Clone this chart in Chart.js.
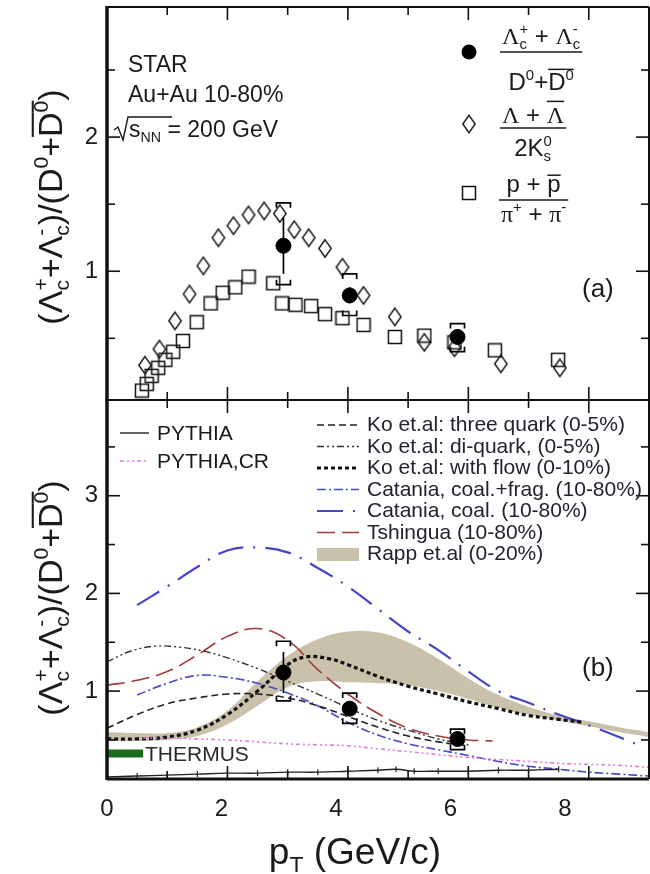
<!DOCTYPE html>
<html>
<head>
<meta charset="utf-8">
<script src="https://cdn.jsdelivr.net/npm/chart.js@4.4.1/dist/chart.umd.min.js"></script>
<style>
  body { margin: 0; background: #fff; }
  #wrap { position: relative; width: 650px; height: 874px; }
  #wrap canvas { position: absolute; left: 0; top: 0; }
</style>
</head>
<body>
<div id="wrap">
  <canvas id="panelA" width="650" height="874"></canvas>
  <canvas id="panelB" width="650" height="874"></canvas>
</div>
<script>
// ---- axis ticks ----
const xTicks = [0, 1, 2, 3, 4, 5, 6, 7, 8, 9];
const xLabels = [0, 2, 4, 6, 8];
const yTicksA = [0.5, 1, 1.5, 2, 2.5];
const yTicksB = [0.5, 1, 1.5, 2, 2.5, 3, 3.5];

// ---- Lambda_c / D0 (STAR, 10-80%) ----
const lcPt = [2.93, 4.03, 5.82];
const lcRatio = [1.19, 0.82, 0.51];
const lcStat = [0.21, 0.06, 0.03];
const lcSysUp = [0.32, 0.16, 0.10];
const lcSysDn = [0.29, 0.15, 0.11];

// ---- light flavour ratios, panel (a) ----
const lkPt = [0.63, 0.87, 1.13, 1.37, 1.60, 1.85, 2.10, 2.35, 2.61, 2.87, 3.11, 3.35, 3.62, 3.91, 4.26, 4.78, 5.27, 5.77, 6.54, 7.52];
const lkRatio = [0.30, 0.42, 0.63, 0.83, 1.04, 1.25, 1.34, 1.42, 1.45, 1.43, 1.31, 1.25, 1.17, 1.03, 0.82, 0.66, 0.47, 0.43, 0.31, 0.28];
const ppiPt = [0.58, 0.66, 0.74, 0.85, 0.97, 1.10, 1.26, 1.49, 1.72, 1.92, 2.13, 2.35, 2.76, 2.91, 3.13, 3.39, 3.62, 3.91, 4.26, 4.78, 5.27, 5.77, 6.44, 7.49];
const ppiRatio = [0.11, 0.16, 0.22, 0.28, 0.34, 0.40, 0.48, 0.62, 0.76, 0.84, 0.88, 0.96, 0.91, 0.76, 0.75, 0.74, 0.68, 0.65, 0.60, 0.51, 0.52, 0.47, 0.41, 0.34];

// ---- model curves, panel (b) ----
const pythiaPt = [0, 0.5, 1, 1.5, 2, 2.5, 3, 3.5, 4, 4.5, 4.8, 5.1, 5.5, 6, 6.5, 7, 7.5];
const pythiaVal = [0.12, 0.13, 0.14, 0.15, 0.16, 0.16, 0.17, 0.17, 0.18, 0.19, 0.20, 0.18, 0.18, 0.18, 0.19, 0.19, 0.20];
const pythiaCrPt = [0.6, 1, 1.5, 2, 2.5, 3, 3.5, 4, 4.5, 5, 5.5, 6, 6.5, 7, 7.5, 8, 8.5, 9];
const pythiaCrVal = [0.52, 0.52, 0.51, 0.50, 0.48, 0.46, 0.45, 0.44, 0.41, 0.38, 0.35, 0.32, 0.30, 0.28, 0.26, 0.25, 0.24, 0.22];
const koThreePt = [0, 0.5, 1, 1.5, 2, 2.5, 3, 3.5, 4, 4.5, 5, 5.5, 6];
const koThreeVal = [0.62, 0.76, 0.87, 0.93, 0.97, 0.97, 0.93, 0.85, 0.74, 0.63, 0.54, 0.48, 0.44];
const koDiPt = [0, 0.4, 0.8, 1.2, 1.6, 2, 2.5, 3, 3.5, 4, 4.5, 5, 5.5, 6];
const koDiVal = [1.30, 1.41, 1.46, 1.45, 1.41, 1.34, 1.23, 1.10, 0.97, 0.83, 0.70, 0.60, 0.51, 0.45];
const koFlowPt = [0, 0.5, 1, 1.5, 2, 2.5, 3, 3.3, 3.7, 4, 4.5, 5, 5.5, 6, 6.5, 7, 7.5, 7.9];
const koFlowVal = [0.51, 0.51, 0.53, 0.60, 0.76, 1.00, 1.27, 1.35, 1.33, 1.27, 1.15, 1.05, 0.97, 0.89, 0.82, 0.75, 0.71, 0.68];
const catFragPt = [0.5, 1, 1.5, 2, 2.5, 3, 3.5, 4, 4.5, 5, 5.5, 6, 6.5, 7, 7.5, 8, 8.5, 9];
const catFragVal = [0.96, 1.08, 1.16, 1.14, 1.08, 0.98, 0.85, 0.68, 0.55, 0.46, 0.40, 0.34, 0.28, 0.23, 0.20, 0.17, 0.15, 0.13];
const catCoalPt = [0.5, 1, 1.5, 2, 2.5, 3, 3.5, 4, 4.5, 5, 5.5, 6, 6.5, 7, 7.5, 8, 8.5, 8.9];
const catCoalVal = [1.88, 2.07, 2.27, 2.44, 2.47, 2.42, 2.26, 2.07, 1.84, 1.61, 1.42, 1.20, 1.00, 0.88, 0.76, 0.65, 0.53, 0.43];
const tsinghuaPt = [0, 0.5, 1, 1.5, 2, 2.5, 3, 3.5, 4, 4.5, 5, 5.5, 6, 6.4];
const tsinghuaVal = [1.06, 1.11, 1.20, 1.37, 1.56, 1.64, 1.52, 1.22, 0.97, 0.77, 0.62, 0.54, 0.50, 0.49];
const rappPt = [0, 0.5, 1, 1.5, 2, 2.5, 3, 3.5, 4, 4.5, 5, 5.5, 6, 6.5, 7, 7.5, 8, 8.5, 9];
const rappHigh = [0.58, 0.57, 0.57, 0.63, 0.80, 1.10, 1.36, 1.53, 1.61, 1.60, 1.50, 1.33, 1.13, 0.96, 0.84, 0.75, 0.69, 0.63, 0.58];
const rappLow = [0.49, 0.49, 0.50, 0.54, 0.66, 0.85, 1.04, 1.10, 1.09, 1.08, 1.06, 1.00, 0.92, 0.83, 0.76, 0.70, 0.64, 0.58, 0.53];
const thermusPt = [0, 0.6];
const thermusVal = [0.36, 0.36];

const FONT = '"Liberation Sans", Arial, sans-serif';
const SERIF = '"Liberation Serif", "Times New Roman", serif';
const INK = '#1a1a1a';

Chart.defaults.font.family = FONT;
Chart.defaults.color = INK;

const pts = (xs, ys) => xs.map((x, i) => ({ x, y: ys[i] }));

// open markers as small canvases so the diamond can be taller than wide
function makeDiamond() {
  const c = document.createElement('canvas');
  c.width = 16; c.height = 21;
  const g = c.getContext('2d');
  g.strokeStyle = '#111'; g.lineWidth = 1.4;
  g.beginPath();
  g.moveTo(8, 1.8); g.lineTo(14.2, 10.5); g.lineTo(8, 19.2); g.lineTo(1.8, 10.5);
  g.closePath(); g.stroke();
  return c;
}
function makeSquare() {
  const c = document.createElement('canvas');
  c.width = 16; c.height = 16;
  const g = c.getContext('2d');
  g.strokeStyle = '#111'; g.lineWidth = 1.5;
  g.strokeRect(1.5, 1.5, 13, 13);
  return c;
}
const DIAMOND = makeDiamond();
const SQUARE = makeSquare();

// ---- text with super/subscripts ----
function pieceFont(p, size) { return size + 'px ' + (p.serif ? SERIF : FONT); }
function pieceWidth(ctx, p, size) {
  const s = size * 0.62;
  if (p.up !== undefined) {
    ctx.font = pieceFont(p, s);
    return Math.max(ctx.measureText(p.up).width, ctx.measureText(p.dn).width);
  }
  ctx.font = pieceFont(p, p.k ? s : size);
  return ctx.measureText(p.t).width;
}
function richWidth(ctx, parts, size) {
  return parts.reduce((w, p) => w + pieceWidth(ctx, p, size), 0);
}
function rich(ctx, parts, x, y, size, align) {
  const total = richWidth(ctx, parts, size);
  let cx = align === 'center' ? x - total / 2 : x;
  ctx.textAlign = 'left';
  ctx.textBaseline = 'alphabetic';
  for (const p of parts) {
    const w = pieceWidth(ctx, p, size);
    if (p.up !== undefined) {
      ctx.fillText(p.up, cx, y - size * 0.42);
      ctx.fillText(p.dn, cx, y + size * 0.22);
    } else {
      const dy = p.k === 'sup' ? -size * 0.42 : p.k === 'sub' ? size * 0.22 : 0;
      ctx.fillText(p.t, cx, y + dy);
    }
    if (p.bar) {
      const by = y - size * (p.barH || 0.86);
      ctx.lineWidth = Math.max(1.2, size / 16);
      ctx.beginPath(); ctx.moveTo(cx, by); ctx.lineTo(cx + w, by); ctx.stroke();
    }
    cx += w;
  }
  return total;
}
function fraction(ctx, num, den, x, yNum, yLine, yDen, size) {
  const w = Math.max(richWidth(ctx, num, size), richWidth(ctx, den, size)) + 4;
  rich(ctx, num, x + w / 2, yNum, size, 'center');
  rich(ctx, den, x + w / 2, yDen, size, 'center');
  ctx.lineWidth = 1.6;
  ctx.beginPath(); ctx.moveTo(x, yLine); ctx.lineTo(x + w, yLine); ctx.stroke();
}

const yTitle = [
  { t: '(' }, { t: 'Λ' }, { up: '+', dn: 'c' }, { t: '+' }, { t: 'Λ' }, { up: '-', dn: 'c' }, { t: ')/(' },
  { t: 'D' }, { t: '0', k: 'sup' }, { t: '+' }, { t: 'D', bar: true }, { t: '0', k: 'sup', bar: true }, { t: ')' }
];
function drawYTitle(ctx, x, y) {
  ctx.save();
  ctx.translate(x, y);
  ctx.rotate(-Math.PI / 2);
  rich(ctx, yTitle, 0, 0, 34, 'center');
  ctx.restore();
}

// ---- frame with inward ticks, error bars ----
function seg(ctx, x1, y1, x2, y2) {
  ctx.beginPath(); ctx.moveTo(x1, y1); ctx.lineTo(x2, y2); ctx.stroke();
}
const frame = {
  id: 'frame',
  afterDatasetsDraw(chart, args, opts) {
    const { ctx, chartArea: a, scales: { x, y } } = chart;
    ctx.save();
    ctx.strokeStyle = '#111';
    ctx.lineWidth = 1.6;
    xTicks.forEach(v => {
      const px = x.getPixelForValue(v);
      const L = v % 2 ? 8 : 13;
      seg(ctx, px, a.top, px, a.top + L);
      seg(ctx, px, a.bottom, px, a.bottom - L);
    });
    opts.yTicks.forEach(v => {
      const py = y.getPixelForValue(v);
      const L = Number.isInteger(v) ? 13 : 8;
      seg(ctx, a.left, py, a.left + L, py);
      seg(ctx, a.right, py, a.right - L, py);
    });
    ctx.lineWidth = 2;
    seg(ctx, a.left, a.top, a.right, a.top);
    seg(ctx, a.right, a.top, a.right, a.bottom);
    ctx.lineWidth = opts.bottomWidth;
    seg(ctx, a.left, a.bottom, a.right, a.bottom);
    ctx.lineWidth = 3.5;
    seg(ctx, a.left, a.top - 1, a.left, a.bottom + 1);
    ctx.restore();
  }
};
const lcErrors = {
  id: 'lcErrors',
  afterDatasetsDraw(chart) {
    const { ctx, scales: { x, y } } = chart;
    ctx.save();
    ctx.strokeStyle = '#000';
    ctx.lineWidth = 1.7;
    lcPt.forEach((pt, i) => {
      const px = x.getPixelForValue(pt);
      const v = lcRatio[i];
      seg(ctx, px, y.getPixelForValue(v - lcStat[i]), px, y.getPixelForValue(v + lcStat[i]));
      const hw = 7, leg = 5;
      const top = y.getPixelForValue(v + lcSysUp[i]);
      const bot = y.getPixelForValue(v - lcSysDn[i]);
      ctx.beginPath();
      ctx.moveTo(px - hw, top + leg); ctx.lineTo(px - hw, top); ctx.lineTo(px + hw, top); ctx.lineTo(px + hw, top + leg);
      ctx.stroke();
      ctx.beginPath();
      ctx.moveTo(px - hw, bot - leg); ctx.lineTo(px - hw, bot); ctx.lineTo(px + hw, bot); ctx.lineTo(px + hw, bot - leg);
      ctx.stroke();
    });
    ctx.restore();
  }
};

// ---- labels of panel (a) ----
const textA = {
  id: 'textA',
  afterDraw(chart) {
    const ctx = chart.ctx;
    ctx.save();
    ctx.fillStyle = INK; ctx.strokeStyle = INK;
    ctx.textAlign = 'left'; ctx.textBaseline = 'alphabetic';
    ctx.font = '23px ' + FONT;
    ctx.fillText('STAR', 128, 72);
    ctx.fillText('Au+Au 10-80%', 128, 102);
    // sqrt(s_NN) = 200 GeV
    ctx.lineWidth = 1.4;
    ctx.beginPath();
    ctx.moveTo(114, 130); ctx.lineTo(118, 127); ctx.lineTo(123, 140); ctx.lineTo(128, 117); ctx.lineTo(172, 117);
    ctx.stroke();
    rich(ctx, [{ t: 's' }, { t: 'NN', k: 'sub' }, { t: ' = 200 GeV' }], 129, 137, 23, 'left');
    ctx.font = '26px ' + FONT;
    ctx.fillText('(a)', 582, 297);
    drawYTitle(ctx, 62, 207);

    // legend
    ctx.fillStyle = '#000';
    ctx.beginPath(); ctx.arc(469, 52, 7.5, 0, Math.PI * 2); ctx.fill();
    ctx.drawImage(DIAMOND, 469 - DIAMOND.width / 2, 124 - DIAMOND.height / 2);
    ctx.drawImage(SQUARE, 469 - SQUARE.width / 2, 193 - SQUARE.height / 2);
    ctx.fillStyle = INK;
    fraction(ctx,
      [{ t: 'Λ', serif: true }, { up: '+', dn: 'c' }, { t: ' + ' }, { t: 'Λ', serif: true }, { up: '-', dn: 'c' }],
      [{ t: 'D' }, { t: '0', k: 'sup' }, { t: '+' }, { t: 'D', bar: true }, { t: '0', k: 'sup', bar: true }],
      500, 44, 52, 90, 24);
    fraction(ctx,
      [{ t: 'Λ', serif: true }, { t: ' + ' }, { t: 'Λ', serif: true, bar: true, barH: 0.9 }],
      [{ t: '2K' }, { up: '0', dn: 's' }],
      500, 123, 128, 156, 24);
    fraction(ctx,
      [{ t: 'p' }, { t: ' + ' }, { t: 'p', bar: true, barH: 0.7 }],
      [{ t: 'π', serif: true }, { t: '+', k: 'sup' }, { t: ' + ' }, { t: 'π', serif: true }, { t: '-', k: 'sup' }],
      499, 192, 200, 222, 24);
    ctx.restore();
  }
};

// ---- labels and legend of panel (b) ----
const leftKeys = ['PYTHIA', 'PYTHIA,CR'];
const rightKeys = ['Ko et.al: three quark (0-5%)', 'Ko et.al: di-quark, (0-5%)', 'Ko et.al: with flow (0-10%)',
  'Catania, coal.+frag. (10-80%)', 'Catania, coal. (10-80%)', 'Tshingua (10-80%)', 'Rapp et.al (0-20%)'];
const textB = {
  id: 'textB',
  afterDraw(chart) {
    const ctx = chart.ctx;
    const byLabel = l => chart.data.datasets.find(d => d.label === l);
    ctx.save();
    ctx.textAlign = 'left'; ctx.textBaseline = 'alphabetic';
    const sample = (d, x1, x2, y) => {
      if (d.fill) {
        ctx.fillStyle = d.backgroundColor;
        ctx.fillRect(x1, y - 6, x2 - x1, 13);
        return;
      }
      ctx.strokeStyle = d.borderColor;
      ctx.lineWidth = d.borderWidth;
      ctx.setLineDash(d.borderDash || []);
      seg(ctx, x1, y, x2, y);
      ctx.setLineDash([]);
    };
    ctx.font = '21px ' + FONT;
    leftKeys.forEach((k, i) => {
      const yb = 440 + i * 28;
      sample(byLabel(k), 120, 149, yb - 7);
      ctx.fillStyle = INK;
      ctx.fillText(k, 157, yb);
    });
    rightKeys.forEach((k, i) => {
      const yb = 431 + i * 21.5;
      sample(byLabel(k), 317, 359, yb - 6);
      ctx.fillStyle = '#222230';
      ctx.fillText(k, 367, yb);
    });
    ctx.fillStyle = '#2a2a2a';
    ctx.fillText('THERMUS', 145, 761);
    ctx.fillStyle = INK; ctx.strokeStyle = INK;
    ctx.font = '26px ' + FONT;
    ctx.fillText('(b)', 582, 676);
    drawYTitle(ctx, 62, 598);
    rich(ctx, [{ t: 'p' }, { t: 'T', k: 'sub' }, { t: ' (GeV/c)' }], 355, 864, 37, 'center');
    ctx.restore();
  }
};

const yTickLabel = v => Number.isInteger(v) ? v : '';
// keep the plot area where the layout padding puts it
const noEdgePadding = s => { s.paddingTop = 0; s.paddingBottom = 0; s.paddingLeft = 0; s.paddingRight = 0; };

// ---- panel (a): light flavour and charm baryon/meson ratios ----
new Chart(document.getElementById('panelA'), {
  type: 'scatter',
  data: {
    datasets: [
      { label: 'p/pi', data: pts(ppiPt, ppiRatio), pointStyle: SQUARE, order: 3 },
      { label: 'Lambda/K0s', data: pts(lkPt, lkRatio), pointStyle: DIAMOND, order: 2 },
      { label: 'Lc/D0', data: pts(lcPt, lcRatio), pointStyle: 'circle', pointRadius: 7.5,
        backgroundColor: '#000', borderColor: '#000', order: 1 }
    ]
  },
  options: {
    responsive: false, animation: false, events: [],
    layout: { autoPadding: false, padding: { top: 7, right: 1, left: 0, bottom: 874 - 400 } },
    scales: {
      x: { type: 'linear', min: 0, max: 9, display: false },
      y: {
        type: 'linear', min: 0.04, max: 2.97,
        afterFit: s => { s.width = 107; noEdgePadding(s); },
        afterBuildTicks: s => { s.ticks = yTicksA.map(value => ({ value })); },
        grid: { display: false, drawTicks: false }, border: { display: false },
        ticks: { callback: yTickLabel, font: { size: 24 }, color: INK, padding: 9 }
      }
    },
    plugins: { legend: { display: false }, tooltip: { enabled: false }, frame: { yTicks: yTicksA, bottomWidth: 2 } }
  },
  plugins: [lcErrors, frame, textA]
});

// ---- panel (b): model comparisons ----
const curve = (label, xs, ys, color, width, dash, extra) => Object.assign({
  label, data: pts(xs, ys), showLine: true, pointRadius: 0, borderColor: color, borderWidth: width,
  borderDash: dash, tension: 0.4, fill: false, order: 2
}, extra || {});

new Chart(document.getElementById('panelB'), {
  type: 'scatter',
  data: {
    datasets: [
      { label: 'Rapp et.al (0-20%)', data: pts(rappPt, rappHigh), showLine: true, pointRadius: 0, borderWidth: 0,
        borderColor: 'rgba(0,0,0,0)', backgroundColor: '#c9c1a9', fill: '+1', tension: 0.4, order: 5 },
      { label: 'rapp-low', data: pts(rappPt, rappLow), showLine: true, pointRadius: 0, borderWidth: 0,
        borderColor: 'rgba(0,0,0,0)', fill: false, tension: 0.4, order: 5 },
      curve('PYTHIA', pythiaPt, pythiaVal, '#222', 1.4, [],
        { pointRadius: 3, pointStyle: 'line', rotation: 90, pointBorderColor: '#222', pointBorderWidth: 1.2 }),
      curve('PYTHIA,CR', pythiaCrPt, pythiaCrVal, '#e07ae0', 1.6, [4, 3, 2, 3, 2, 3]),
      curve('Ko et.al: three quark (0-5%)', koThreePt, koThreeVal, '#222', 1.6, [7, 4]),
      curve('Ko et.al: di-quark, (0-5%)', koDiPt, koDiVal, '#333', 1.4, [7, 3, 2, 3, 2, 3]),
      curve('Ko et.al: with flow (0-10%)', koFlowPt, koFlowVal, '#111', 3.2, [4, 3]),
      curve('Catania, coal.+frag. (10-80%)', catFragPt, catFragVal, '#4848c8', 1.6, [9, 3, 2, 3]),
      curve('Catania, coal. (10-80%)', catCoalPt, catCoalVal, '#4545cc', 2.2, [26, 10, 2, 10]),
      curve('Tshingua (10-80%)', tsinghuaPt, tsinghuaVal, '#a33a3a', 1.6, [18, 7]),
      curve('THERMUS', thermusPt, thermusVal, '#1d6b1d', 8, [], { tension: 0, borderCapStyle: 'butt' }),
      { label: 'Lc/D0', data: pts(lcPt, lcRatio), pointStyle: 'circle', pointRadius: 7.5,
        backgroundColor: '#000', borderColor: '#000', order: 0 }
    ]
  },
  options: {
    responsive: false, animation: false, events: [],
    layout: { autoPadding: false, padding: { top: 400, right: 1, left: 0, bottom: 0 } },
    scales: {
      x: { type: 'linear', min: 0, max: 9, display: false },
      // the printed tick numbers sit on a slightly narrower scale than the tick marks
      xl: {
        type: 'linear', axis: 'x', position: 'bottom', min: 0, max: 9.47,
        afterFit: s => { s.height = 874 - 779; noEdgePadding(s); },
        afterBuildTicks: s => { s.ticks = xLabels.map(value => ({ value })); },
        grid: { display: false, drawTicks: false }, border: { display: false },
        ticks: { autoSkip: false, maxRotation: 0, font: { size: 24 }, color: INK, padding: 16 }
      },
      y: {
        type: 'linear', min: 0.1, max: 3.98,
        afterFit: s => { s.width = 107; noEdgePadding(s); },
        afterBuildTicks: s => { s.ticks = yTicksB.map(value => ({ value })); },
        grid: { display: false, drawTicks: false }, border: { display: false },
        ticks: { callback: yTickLabel, font: { size: 24 }, color: INK, padding: 9 }
      }
    },
    plugins: { legend: { display: false }, tooltip: { enabled: false }, frame: { yTicks: yTicksB, bottomWidth: 3 } }
  },
  plugins: [lcErrors, frame, textB]
});
</script>
</body>
</html>
